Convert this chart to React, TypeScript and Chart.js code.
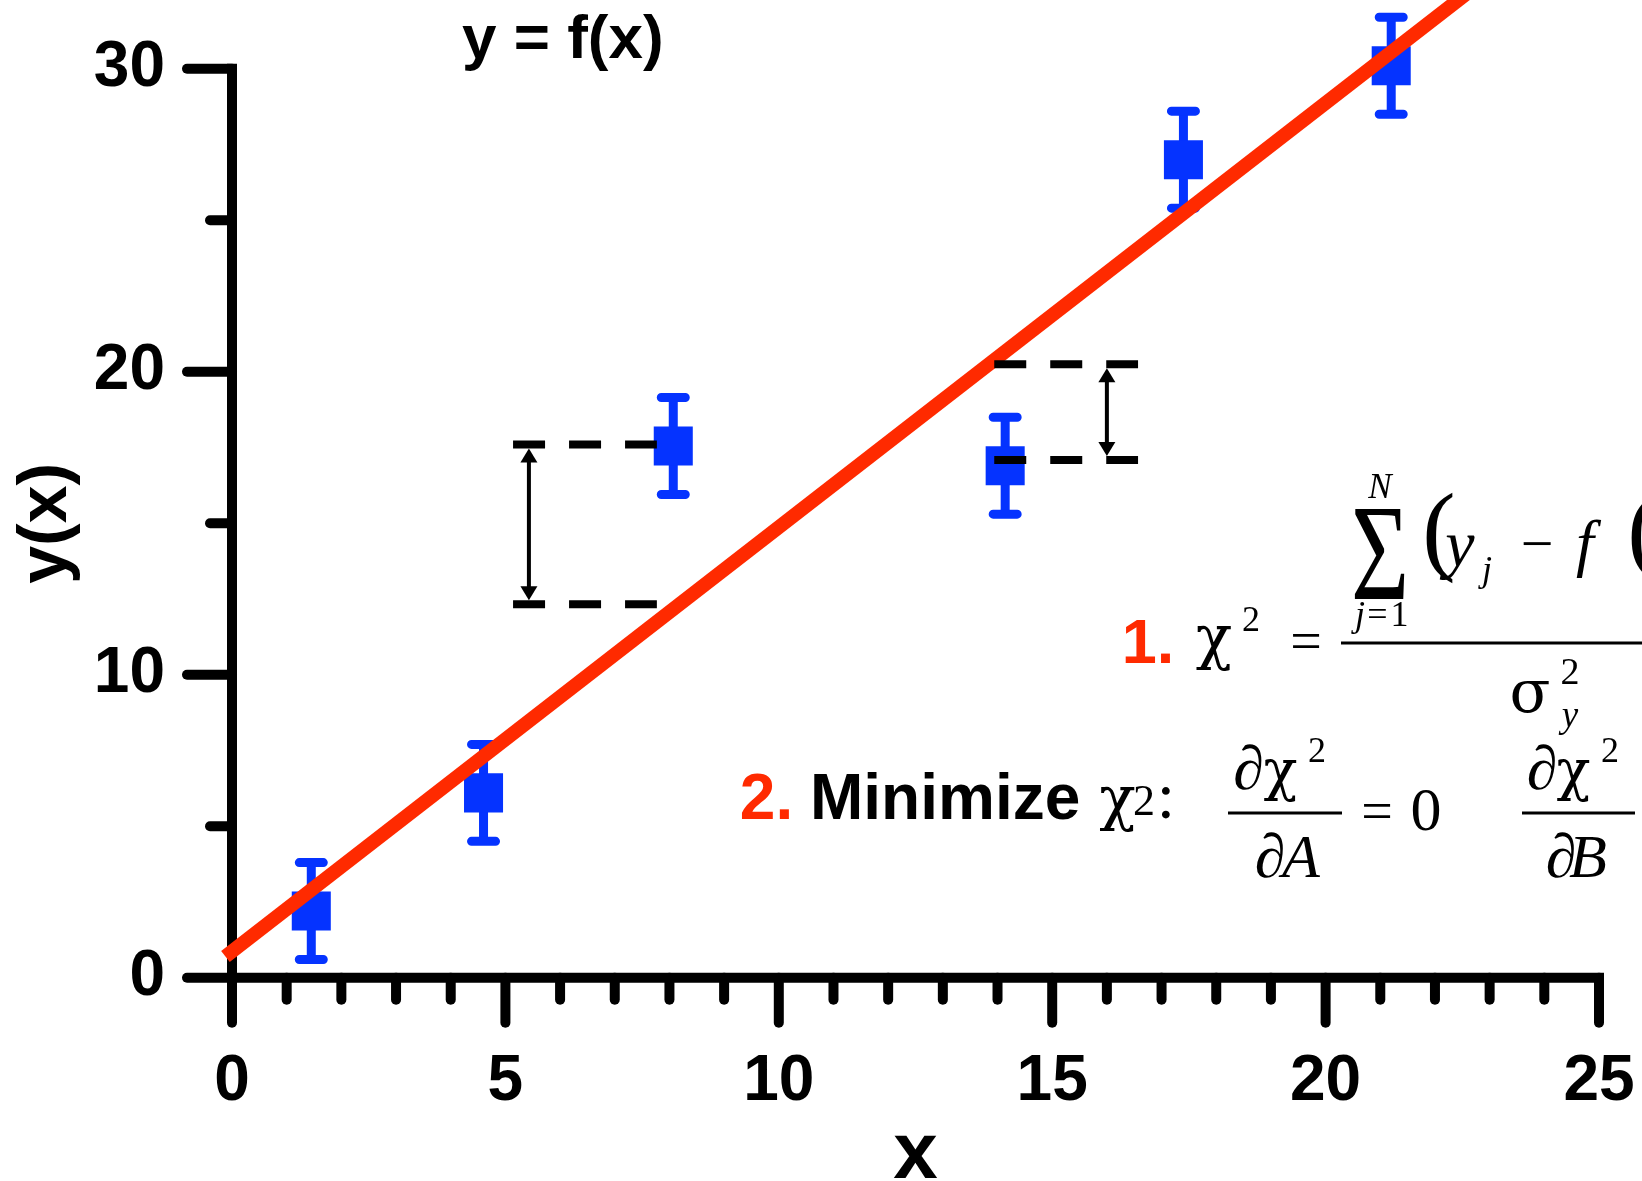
import React, { useEffect, useRef } from 'react';
import { Chart, registerables } from 'chart.js';

Chart.register(...registerables);

// ---- data ----
const pointX = [1.45, 4.6, 8.07, 14.14, 17.4, 21.2];
const pointY = [2.2, 6.1, 17.55, 16.9, 27.0, 30.1];
const pointErr = [1.6, 1.6, 1.6, 1.6, 1.6, 1.6];

const fitX = [-0.12, 24];
const fitY = [0.7, 34.47];

const residualStartX = [5.14, 13.94];
const residualEndX = [7.77, 16.57];
const residualUpperY = [17.6, 20.25];
const residualLowerY = [12.33, 17.09];
const residualArrowX = [5.43, 16.0];

const xMin = 0;
const xMax = 25;
const yMin = 0;
const yMax = 32.27;
const yAxisTop = 30;
const xMajorStep = 5;
const yMajorStep = 10;

const BLUE = '#0533FF';
const RED = '#FF2A00';
const SANS = '"Liberation Sans", Arial, Helvetica, sans-serif';
const SERIF = '"Liberation Serif", "Times New Roman", Times, serif';
const GREEK = '"DejaVu Serif", "Liberation Serif", serif';

function txt(ctx: CanvasRenderingContext2D, s: string, x: number, y: number, font: string, color = '#000', align: CanvasTextAlign = 'center') {
  ctx.font = font;
  ctx.fillStyle = color;
  ctx.textAlign = align;
  ctx.textBaseline = 'alphabetic';
  ctx.fillText(s, x, y);
}

const axesPlugin = {
  id: 'customAxes',
  beforeDatasetsDraw(chart: any) {
    const ctx: CanvasRenderingContext2D = chart.ctx;
    const xs = chart.scales.x;
    const ys = chart.scales.y;
    const x0 = xs.getPixelForValue(xMin);
    const y0 = ys.getPixelForValue(yMin);
    const yTop = ys.getPixelForValue(yAxisTop);
    const xEnd = xs.getPixelForValue(xMax);
    ctx.save();
    ctx.strokeStyle = '#000';
    ctx.lineWidth = 10;
    ctx.lineCap = 'butt';
    ctx.beginPath();
    ctx.moveTo(x0, yTop - 5);
    ctx.lineTo(x0, y0);
    ctx.stroke();
    ctx.beginPath();
    ctx.moveTo(x0, y0);
    ctx.lineTo(xEnd + 5, y0);
    ctx.stroke();
    ctx.lineCap = 'round';
    xs.ticks.forEach((t: any) => {
      const px = xs.getPixelForValue(t.value);
      const len = Math.abs(t.value % xMajorStep) < 1e-9 ? 45 : 22;
      ctx.beginPath();
      ctx.moveTo(px, y0);
      ctx.lineTo(px, y0 + len);
      ctx.stroke();
    });
    ys.ticks.forEach((t: any) => {
      if (t.value > yAxisTop + 1e-9) return;
      const py = ys.getPixelForValue(t.value);
      const len = Math.abs(t.value % yMajorStep) < 1e-9 ? 45 : 22;
      ctx.beginPath();
      ctx.moveTo(x0, py);
      ctx.lineTo(x0 - len, py);
      ctx.stroke();
    });

    // error bars
    ctx.strokeStyle = BLUE;
    ctx.lineWidth = 9;
    pointX.forEach((xv, i) => {
      const px = xs.getPixelForValue(xv);
      const top = ys.getPixelForValue(pointY[i] + pointErr[i]);
      const bot = ys.getPixelForValue(pointY[i] - pointErr[i]);
      ctx.lineCap = 'butt';
      ctx.beginPath();
      ctx.moveTo(px, top);
      ctx.lineTo(px, bot);
      ctx.stroke();
      ctx.lineCap = 'round';
      ctx.beginPath();
      ctx.moveTo(px - 12, top);
      ctx.lineTo(px + 12, top);
      ctx.moveTo(px - 12, bot);
      ctx.lineTo(px + 12, bot);
      ctx.stroke();
    });
    ctx.restore();
  },
  afterDatasetsDraw(chart: any) {
    const ctx: CanvasRenderingContext2D = chart.ctx;
    const xs = chart.scales.x;
    const ys = chart.scales.y;
    ctx.save();
    ctx.strokeStyle = '#000';
    ctx.fillStyle = '#000';
    residualArrowX.forEach((av, i) => {
      const px = xs.getPixelForValue(av);
      const top = ys.getPixelForValue(residualUpperY[i]) + 4;
      const bot = ys.getPixelForValue(residualLowerY[i]) - 4;
      const hl = 14;
      const hw = 8.5;
      ctx.lineWidth = 4;
      ctx.lineCap = 'butt';
      ctx.beginPath();
      ctx.moveTo(px, top + hl - 2);
      ctx.lineTo(px, bot - hl + 2);
      ctx.stroke();
      ctx.beginPath();
      ctx.moveTo(px, top);
      ctx.lineTo(px - hw, top + hl);
      ctx.lineTo(px + hw, top + hl);
      ctx.closePath();
      ctx.fill();
      ctx.beginPath();
      ctx.moveTo(px, bot);
      ctx.lineTo(px - hw, bot - hl);
      ctx.lineTo(px + hw, bot - hl);
      ctx.closePath();
      ctx.fill();
    });
    ctx.restore();
  },
  afterDraw(chart: any) {
    const ctx: CanvasRenderingContext2D = chart.ctx;
    const xs = chart.scales.x;
    const ys = chart.scales.y;
    ctx.save();
    // axis titles
    txt(ctx, 'x', xs.getPixelForValue((xMin + xMax) / 2), 1178, `bold 80px ${SANS}`);
    ctx.save();
    ctx.translate(66, ys.getPixelForValue((yMin + yAxisTop) / 2));
    ctx.rotate(-Math.PI / 2);
    txt(ctx, 'y(x)', 0, 0, `bold 68px ${SANS}`);
    ctx.restore();
    txt(ctx, 'y = f(x)', 462, 58, `bold 62px ${SANS}`, '#000', 'left');

    // equation 1
    txt(ctx, '1.', 1148, 663, `bold 63px ${SANS}`, RED);
    txt(ctx, 'χ', 1214, 658, `60px ${GREEK}`);
    txt(ctx, '2', 1251, 631, `36px ${SERIF}`);
    txt(ctx, '=', 1306, 660, `56px ${SERIF}`);
    ctx.fillStyle = '#000';
    ctx.fillRect(1341, 641.5, 400, 3);
    ctx.save();
    ctx.translate(1380, 599);
    ctx.scale(1, 1.375);
    txt(ctx, 'Σ', 0, 0, `100px ${SERIF}`);
    ctx.restore();
    txt(ctx, 'N', 1380, 498, `italic 35px ${SERIF}`);
    txt(ctx, 'j', 1360, 626, `italic 36px ${SERIF}`);
    txt(ctx, '=', 1377.5, 626, `36px ${SERIF}`);
    txt(ctx, '1', 1399.5, 626, `36px ${SERIF}`);
    txt(ctx, '(', 1439, 562, `100px ${SERIF}`);
    txt(ctx, 'y', 1460, 566, `italic 66px ${SERIF}`);
    txt(ctx, 'j', 1487, 581, `italic 36px ${SERIF}`);
    txt(ctx, '−', 1537, 563, `58px ${SERIF}`);
    txt(ctx, 'f', 1585, 564, `italic 64px ${SERIF}`);
    txt(ctx, '(', 1644, 562, `100px ${SERIF}`);
    txt(ctx, 'σ', 1530, 712, `60px ${GREEK}`);
    txt(ctx, '2', 1570, 684, `38px ${SERIF}`);
    txt(ctx, 'y', 1570, 727, `italic 37px ${SERIF}`);

    // equation 2
    txt(ctx, '2.', 766.5, 819, `bold 64px ${SANS}`, RED);
    txt(ctx, 'Minimize', 810, 819, `bold 64px ${SANS}`, '#000', 'left');
    txt(ctx, 'χ', 1117.5, 818.5, `60px ${GREEK}`);
    txt(ctx, '2', 1144, 815, `44px ${SERIF}`);
    txt(ctx, ':', 1166, 818, `66px ${SERIF}`);

    txt(ctx, '∂', 1248.5, 789, `62px ${SERIF}`);
    txt(ctx, 'χ', 1280.5, 789, `56px ${GREEK}`);
    txt(ctx, '2', 1317, 762, `36px ${SERIF}`);
    ctx.fillStyle = '#000';
    ctx.fillRect(1228, 811.5, 114, 3);
    txt(ctx, '∂', 1270, 877, `62px ${SERIF}`);
    txt(ctx, 'A', 1301, 877, `italic 62px ${SERIF}`);
    txt(ctx, '=', 1377, 830, `56px ${SERIF}`);
    txt(ctx, '0', 1426, 830, `62px ${SERIF}`);

    txt(ctx, '∂', 1542, 789, `62px ${SERIF}`);
    txt(ctx, 'χ', 1573.5, 789, `56px ${GREEK}`);
    txt(ctx, '2', 1610, 762, `36px ${SERIF}`);
    ctx.fillStyle = '#000';
    ctx.fillRect(1522, 811.5, 113, 3);
    txt(ctx, '∂', 1561, 877, `62px ${SERIF}`);
    txt(ctx, 'B', 1588, 877, `italic 62px ${SERIF}`);
    ctx.restore();
  },
};

export default function App() {
  const ref = useRef<HTMLCanvasElement>(null);
  useEffect(() => {
    if (!ref.current) return;
    const residualDatasets: any[] = [];
    residualStartX.forEach((sx, i) => {
      [residualUpperY[i], residualLowerY[i]].forEach((yv) => {
        residualDatasets.push({
          type: 'line',
          data: [
            { x: sx, y: yv },
            { x: residualEndX[i], y: yv },
          ],
          borderColor: '#000',
          borderWidth: 8,
          borderDash: [32, 24],
          borderCapStyle: 'butt',
          pointRadius: 0,
          fill: false,
          clip: false,
          order: 0,
        });
      });
    });
    const chart = new Chart(ref.current, {
      type: 'scatter',
      data: {
        datasets: [
          ...residualDatasets,
          {
            type: 'line',
            data: fitX.map((x, i) => ({ x, y: fitY[i] })),
            borderColor: RED,
            borderWidth: 14,
            borderCapStyle: 'butt',
            pointRadius: 0,
            fill: false,
            clip: false,
            order: 1,
          },
          {
            type: 'scatter',
            data: pointX.map((x, i) => ({ x, y: pointY[i] })),
            pointStyle: 'rect',
            pointRadius: 27.6,
            pointBackgroundColor: BLUE,
            pointBorderWidth: 0,
            borderWidth: 0,
            clip: false,
            order: 2,
          },
        ] as any,
      },
      options: {
        animation: false,
        responsive: false,
        devicePixelRatio: 1,
        events: [],
        layout: { autoPadding: false, padding: { top: 0, left: 0, right: 43, bottom: 0 } },
        plugins: { legend: { display: false }, tooltip: { enabled: false }, title: { display: false } },
        scales: {
          x: {
            type: 'linear',
            bounds: 'data',
            min: xMin,
            max: xMax,
            grid: { display: false, drawTicks: false },
            border: { display: false },
            ticks: {
              stepSize: 1,
              autoSkip: false,
              maxRotation: 0,
              includeBounds: false,
              padding: 66,
              color: '#000',
              font: { family: SANS, size: 64, weight: 'bold' },
              callback: (v: any) => (Math.abs(Number(v) % xMajorStep) < 1e-9 ? String(v) : ''),
            },
            afterFit: (s: any) => {
              s.height = 203.3;
              s.paddingLeft = 0;
              s.paddingRight = 0;
              s.paddingTop = 0;
              s.paddingBottom = 0;
            },
          },
          y: {
            type: 'linear',
            bounds: 'data',
            min: yMin,
            max: yMax,
            grid: { display: false, drawTicks: false },
            border: { display: false },
            ticks: {
              stepSize: 5,
              autoSkip: false,
              includeBounds: false,
              padding: 67,
              color: '#000',
              font: { family: SANS, size: 64, weight: 'bold' },
              callback: (v: any) => (Number(v) <= yAxisTop && Math.abs(Number(v) % yMajorStep) < 1e-9 ? String(v) : ''),
            },
            afterFit: (s: any) => {
              s.width = 232;
              s.paddingLeft = 0;
              s.paddingRight = 0;
              s.paddingTop = 0;
              s.paddingBottom = 0;
            },
          },
        },
      } as any,
      plugins: [axesPlugin as any],
    });
    return () => chart.destroy();
  }, []);
  return (
    <div style={{ position: 'fixed', left: 0, top: 0, width: 1642, height: 1181, background: '#fff' }}>
      <canvas ref={ref} width={1642} height={1181} style={{ display: 'block', width: 1642, height: 1181 }} />
    </div>
  );
}
